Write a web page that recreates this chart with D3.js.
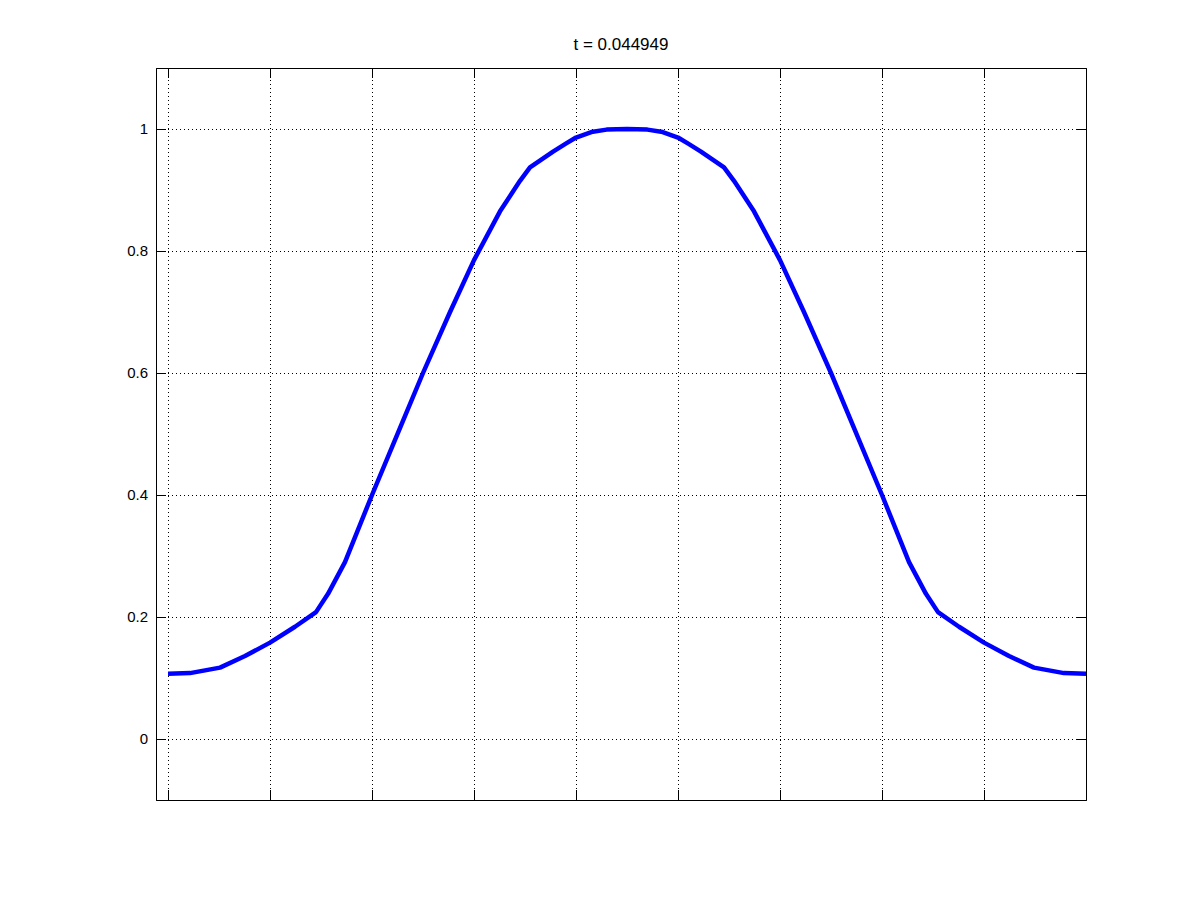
<!DOCTYPE html>
<html>
<head>
<meta charset="utf-8">
<script src="https://cdn.jsdelivr.net/npm/d3@7"></script>
<style>
  body { margin: 0; background: #fff; }
  .tick text { font-family: "Liberation Sans", Arial, sans-serif; }
</style>
</head>
<body>
<div class="container"></div>
<script>
var svgWidth = 1200;
var svgHeight = 900;
var margin = { top: 68, right: 114, bottom: 100, left: 156 };
var width = svgWidth - margin.left - margin.right;
var height = svgHeight - margin.top - margin.bottom;

// chart data
var titleText = "t = 0.044949";
var xValues = [0, 0.216, 0.51, 0.755, 1.0, 1.245, 1.451, 1.569, 1.735, 2.0, 2.275, 2.5, 2.765, 3.0,
  3.255, 3.451, 3.549, 3.775, 3.9, 4.0, 4.15, 4.3, 4.5, 4.7, 4.85, 5.0, 5.1, 5.225, 5.451, 5.549,
  5.745, 6.0, 6.235, 6.5, 6.725, 7.0, 7.265, 7.431, 7.549, 7.755, 8.0, 8.245, 8.49, 8.784, 9.0];
var yValues = [0.107, 0.108, 0.117, 0.136, 0.158, 0.184, 0.208, 0.238, 0.29, 0.40, 0.51, 0.60, 0.70, 0.785,
  0.865, 0.915, 0.937, 0.963, 0.976, 0.986, 0.995, 0.999, 1.0, 0.999, 0.995, 0.986, 0.976, 0.963, 0.937, 0.915,
  0.865, 0.785, 0.70, 0.60, 0.51, 0.40, 0.29, 0.238, 0.208, 0.184, 0.158, 0.136, 0.117, 0.108, 0.107];
var xTicks = [0, 1, 2, 3, 4, 5, 6, 7, 8];
var yTicks = [0, 0.2, 0.4, 0.6, 0.8, 1];
var yTickLabels = ["0", "0.2", "0.4", "0.6", "0.8", "1"];

var data = xValues.map(function(x, i) { return { x: x, y: yValues[i] }; });

var svg = d3.select(".container")
  .append("svg")
  .attr("width", svgWidth)
  .attr("height", svgHeight);

var chartGroup = svg.append("g")
  .attr("transform", `translate(${margin.left}, ${margin.top})`);

var xScale = d3.scaleLinear()
  .domain([-12 / 102, 9])
  .range([0, width]);
var yScale = d3.scaleLinear()
  .domain([-0.1, 1.1])
  .range([height, 0]);

// dotted grid
chartGroup.append("g")
  .selectAll("line")
  .data(xTicks)
  .enter()
  .append("line")
  .attr("x1", d => Math.round(xScale(d)) + 0.5)
  .attr("x2", d => Math.round(xScale(d)) + 0.5)
  .attr("y1", 0)
  .attr("y2", height)
  .attr("stroke", "#000")
  .attr("stroke-dasharray", "1,3");
chartGroup.append("g")
  .selectAll("line")
  .data(yTicks)
  .enter()
  .append("line")
  .attr("x1", 0)
  .attr("x2", width)
  .attr("y1", d => Math.round(yScale(d)) + 0.5)
  .attr("y2", d => Math.round(yScale(d)) + 0.5)
  .attr("stroke", "#000")
  .attr("stroke-dasharray", "1,3");

// axes with inward ticks on all four sides
var tickLen = 10;
var bottomAxis = d3.axisBottom(xScale).tickValues(xTicks).tickSize(-tickLen).tickFormat("");
var topAxis = d3.axisTop(xScale).tickValues(xTicks).tickSize(-tickLen).tickFormat("");
var leftAxis = d3.axisLeft(yScale).tickValues(yTicks).tickSize(-tickLen).tickPadding(8)
  .tickFormat((d, i) => yTickLabels[i]);
var rightAxis = d3.axisRight(yScale).tickValues(yTicks).tickSize(-tickLen).tickFormat("");

chartGroup.append("g")
  .attr("transform", `translate(0, ${height})`)
  .call(bottomAxis);
chartGroup.append("g")
  .call(topAxis);
chartGroup.append("g")
  .call(leftAxis);
chartGroup.append("g")
  .attr("transform", `translate(${width}, 0)`)
  .call(rightAxis);

chartGroup.selectAll(".domain").attr("stroke", "#000");
chartGroup.selectAll(".tick line").attr("stroke", "#000");
chartGroup.selectAll(".tick text")
  .attr("font-size", 15)
  .attr("fill", "#000");

// curve
var line = d3.line()
  .x(d => xScale(d.x))
  .y(d => yScale(d.y));

chartGroup.append("path")
  .datum(data)
  .attr("d", line)
  .attr("fill", "none")
  .attr("stroke", "#0000ff")
  .attr("stroke-width", 4.5)
  .attr("stroke-linejoin", "round");

// title
svg.append("text")
  .attr("x", margin.left + width / 2)
  .attr("y", 50)
  .attr("text-anchor", "middle")
  .attr("font-family", "Liberation Sans, Arial, sans-serif")
  .attr("font-size", 17)
  .attr("fill", "#000")
  .text(titleText);
</script>
</body>
</html>
